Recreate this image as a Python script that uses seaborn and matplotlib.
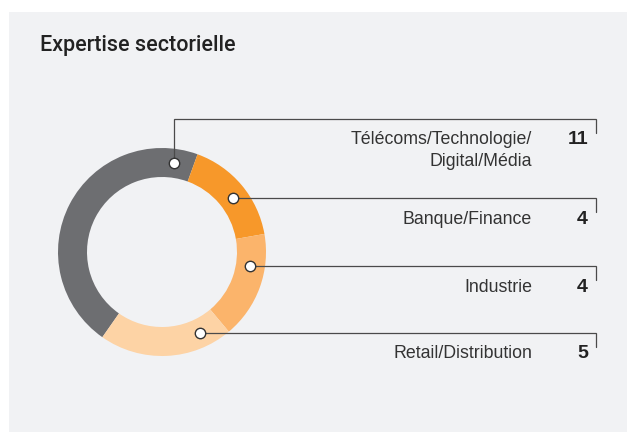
import numpy as np
import matplotlib
matplotlib.use("Agg")
import matplotlib.pyplot as plt
import seaborn as sns
from matplotlib.patches import Rectangle

# ---- data ----
title = "Expertise sectorielle"
sectors = ["Télécoms/Technologie/\nDigital/Média", "Banque/Finance", "Industrie", "Retail/Distribution"]
counts = [11, 4, 4, 5]
colors = ["#6d6e71", "#f7982a", "#fbb46b", "#fdd3a5"]

sns.set_theme(style="white")
plt.rcParams['font.family'] = ['Liberation Sans', 'DejaVu Sans']

W, H = 627, 432
fig = plt.figure(figsize=(W / 100, H / 100), dpi=100)
fig.patch.set_facecolor("white")
ax = fig.add_axes([0, 0, 1, 1])
ax.set_facecolor("white")

def Y(y):
    return H - y

bg = "#f1f2f4"
ax.add_patch(Rectangle((9, 0), W - 9, H - 12, facecolor=bg, edgecolor="none", zorder=0))

cx, cy, R, ring = 162, Y(252), 104, 29
wedges, _ = ax.pie(counts, colors=colors, startangle=235, counterclock=False,
                   radius=R, center=(cx, cy), frame=True,
                   wedgeprops=dict(width=ring, linewidth=0))
ax.set_xlim(0, W)
ax.set_ylim(0, H)
ax.set_aspect("equal")
ax.axis("off")

rmid = R - ring / 2
line_col = "#4a4a4a"
rows = [119, 198, 266, 333]  # label row (pixel y)
x_right = 596

for i, (w, lab, n) in enumerate(zip(wedges, sectors, counts)):
    ry = rows[i]
    if i == 0:
        # marker near the end of the first wedge, vertical leader up
        mx = cx + rmid * np.cos(np.deg2rad(90 - 7.7))
        my = cy + rmid * np.sin(np.deg2rad(90 - 7.7))
        ax.plot([mx, mx, x_right, x_right], [my, Y(ry), Y(ry), Y(ry + 14)],
                color=line_col, lw=0.9, zorder=3, solid_joinstyle="miter")
    else:
        my = Y(ry)
        mx = cx + np.sqrt(rmid ** 2 - (my - cy) ** 2)
        ax.plot([mx, x_right, x_right], [my, my, Y(ry + 14)],
                color=line_col, lw=0.9, zorder=3, solid_joinstyle="miter")
    ax.plot([mx], [my], "o", ms=7.5, mfc="white", mec="#333333", mew=1.0, zorder=4)
    lines = lab.split("\n")
    for k, t in enumerate(lines):
        ax.text(532, Y(ry + 21 + 22 * k), t, ha="right", va="center",
                fontsize=12.8, color="#333333")
    ax.text(588, Y(ry + 21), str(n), ha="right", va="center",
            fontsize=14, fontweight="bold", color="#222222")

ax.text(40, Y(45), title, ha="left", va="center", fontsize=15.5,
        family=["Roboto", "Liberation Sans"], fontweight="medium", color="#222222")

fig.savefig("out.png", dpi=100, facecolor="white")
